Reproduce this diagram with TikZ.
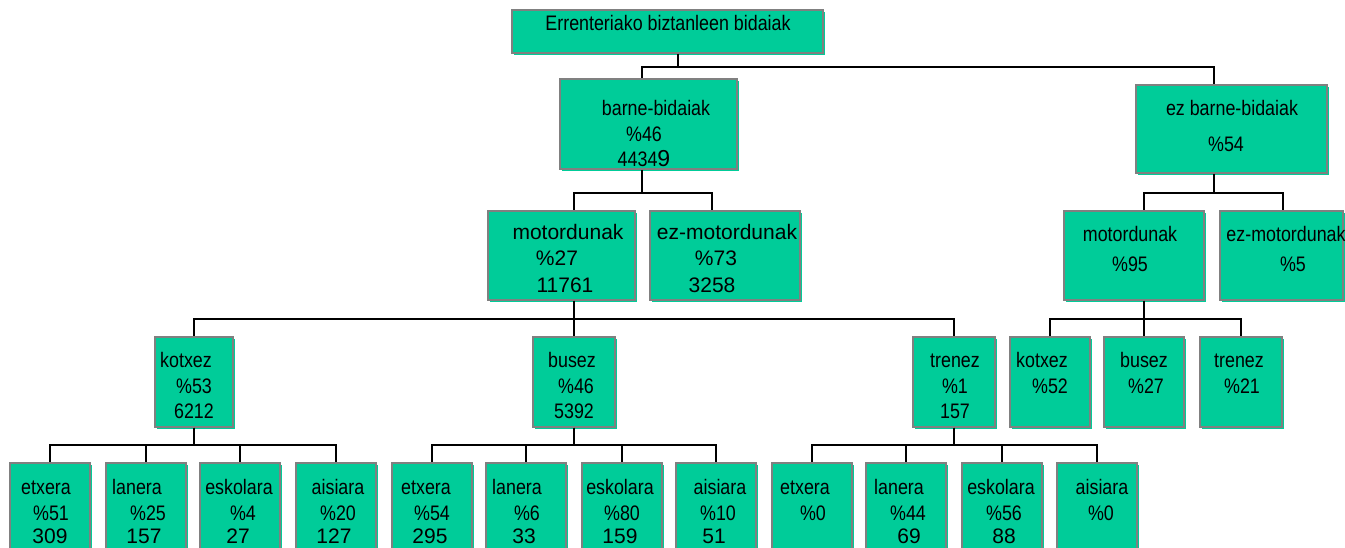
\documentclass[tikz,border=0pt]{standalone}
\usepackage{fontspec}
\setmainfont{Liberation Sans}
\newfontfamily\narrowfont{Liberation Sans}[FakeStretch=0.85]
\newfontfamily\widefont{Liberation Sans}
\usetikzlibrary{shadows}
\definecolor{boxgreen}{RGB}{0,204,153}
\definecolor{boxedge}{RGB}{128,128,128}
\tikzset{
  box/.style={draw=boxedge, line width=1.5pt, fill=boxgreen, inner sep=0pt,
    general shadow={fill=boxgreen, shadow xshift=1.5pt, shadow yshift=-1.5pt}},
  conn/.style={draw=black, line width=1.4pt},
  nt/.style={anchor=base, inner sep=0pt, font=\narrowfont\fontsize{15.75}{18}\selectfont},
  wt/.style={anchor=base, inner sep=0pt, font=\widefont\fontsize{15.75}{18}\selectfont},
}
% box: name, left, top, right, bottom (pixel grid, y downwards)
\newcommand\bx[5]{\node[box, minimum width={(#4-#2)*0.75pt}, minimum height={(#5-#3)*0.75pt}] (#1) at ({(#2+#4)/2},{(#3+#5)/2}) {};}
% text line: name, style, x, baseline y, text
\newcommand\tn[5]{\node[#2] (#1) at (#3,#4) {#5};}
\begin{document}
\begin{tikzpicture}[x=0.75pt, y=-0.75pt]
\useasboundingbox (0,0) rectangle (1345,548);

% ---- boxes ----
\bx{root}{512}{10}{823}{53}
\bx{barne}{560}{79}{737}{169}
\bx{ezbarne}{1136}{85}{1327}{173}
\bx{mot1}{488}{211}{635}{300}
\bx{ezmot1}{650}{211}{800}{300}
\bx{mot2}{1064}{211}{1204}{300}
\bx{ezmot2}{1220}{211}{1343}{300}
\bx{kotxez}{155}{337}{233}{427}
\bx{busez}{533}{337}{615}{427}
\bx{trenez}{913}{337}{995}{427}
\bx{kotxezb}{1010}{337}{1090}{427}
\bx{busezb}{1104}{337}{1184}{427}
\bx{trenezb}{1200}{337}{1282}{427}
% destinations, car
\bx{ka}{10}{463}{90}{565}
\bx{kb}{106}{463}{186}{565}
\bx{kc}{200}{463}{280}{565}
\bx{kd}{296}{463}{376}{565}
% destinations, bus
\bx{ba}{392}{463}{472}{565}
\bx{bb}{486}{463}{566}{565}
\bx{bc}{582}{463}{662}{565}
\bx{bd}{676}{463}{756}{565}
% destinations, train
\bx{ta}{772}{463}{852}{565}
\bx{tb}{866}{463}{946}{565}
\bx{tc}{962}{463}{1042}{565}
\bx{td}{1057}{463}{1137}{565}

% ---- connectors ----
\coordinate (s-root) at (678,0);
\coordinate (s-barne) at (642,0);
\coordinate (s-ezbarne) at (1214,0);
\coordinate (s-mot1) at (574,0);
\coordinate (s-ezmot1) at (712,0);
\coordinate (s-mot2) at (1144,0);
\coordinate (s-ezmot2) at (1283,0);
\coordinate (j1) at (0,67);
\coordinate (j2) at (0,193);
\coordinate (j3) at (0,319);
\coordinate (j4) at (0,445);

\draw[conn] (root.south -| s-root) -- (s-root |- j1) -| (barne.north -| s-barne);
\draw[conn] (s-root |- j1) -| (ezbarne.north -| s-ezbarne);

\draw[conn] (barne.south -| s-barne) -- (s-barne |- j2) -| (mot1.north -| s-mot1);
\draw[conn] (s-barne |- j2) -| (ezmot1.north -| s-ezmot1);

\draw[conn] (ezbarne.south -| s-ezbarne) -- (s-ezbarne |- j2) -| (mot2.north -| s-mot2);
\draw[conn] (s-ezbarne |- j2) -| (ezmot2.north -| s-ezmot2);

\foreach \c in {kotxez,busez,trenez}
  \draw[conn] (mot1.south -| s-mot1) -- (s-mot1 |- j3) -| (\c.north);
\foreach \c in {kotxezb,busezb,trenezb}
  \draw[conn] (mot2.south -| s-mot2) -- (s-mot2 |- j3) -| (\c.north);

\foreach \c in {ka,kb,kc,kd}
  \draw[conn] (kotxez.south) -- (kotxez.south |- j4) -| (\c.north);
\foreach \c in {ba,bb,bc,bd}
  \draw[conn] (busez.south) -- (busez.south |- j4) -| (\c.north);
\foreach \c in {ta,tb,tc,td}
  \draw[conn] (trenez.south) -- (trenez.south |- j4) -| (\c.north);

% ---- texts ----
\tn{t-root}{nt}{668}{31}{Errenteriako biztanleen bidaiak}

\tn{t-barne1}{nt}{656}{116}{barne-bidaiak}
\tn{t-barne2}{nt}{644}{142}{\%46}
\tn{t-barne3}{nt}{644}{167}{4434{\widefont\fontsize{17.3}{18}\selectfont 9}}

\tn{t-ezbarne1}{nt}{1232}{116}{ez barne-bidaiak}
\tn{t-ezbarne2}{nt}{1226}{152}{\%54}

\tn{t-mot1a}{wt}{568}{240}{motordunak}
\tn{t-mot1b}{wt}{557}{266}{\%27}
\tn{t-mot1c}{wt}{565}{293}{11761}

\tn{t-ezmot1a}{wt}{727}{240}{ez-motordunak}
\tn{t-ezmot1b}{wt}{716}{266}{\%73}
\tn{t-ezmot1c}{wt}{712}{293}{3258}

\tn{t-mot2a}{nt}{1130}{242}{motordunak}
\tn{t-mot2b}{nt}{1130}{272}{\%95}

\tn{t-ezmot2a}{nt}{1286}{242}{ez-motordunak}
\tn{t-ezmot2b}{nt}{1293}{272}{\%5}

\tn{t-kotxez1}{nt}{186}{368}{kotxez}
\tn{t-kotxez2}{nt}{194}{394}{\%53}
\tn{t-kotxez3}{nt}{194}{419}{6212}

\tn{t-busez1}{nt}{572}{368}{busez}
\tn{t-busez2}{nt}{576}{394}{\%46}
\tn{t-busez3}{nt}{574}{419}{5392}

\tn{t-trenez1}{nt}{955}{368}{trenez}
\tn{t-trenez2}{nt}{955}{394}{\%1}
\tn{t-trenez3}{nt}{955}{419}{157}

\tn{t-kotxezb1}{nt}{1042}{368}{kotxez}
\tn{t-kotxezb2}{nt}{1050}{394}{\%52}
\tn{t-busezb1}{nt}{1144}{368}{busez}
\tn{t-busezb2}{nt}{1146}{394}{\%27}
\tn{t-trenezb1}{nt}{1239}{368}{trenez}
\tn{t-trenezb2}{nt}{1242}{394}{\%21}

% car destinations
\tn{t-ka1}{nt}{46}{494}{etxera}   \tn{t-ka2}{nt}{51}{520}{\%51}  \tn{t-ka3}{wt}{50}{543}{309}
\tn{t-kb1}{nt}{137}{494}{lanera}  \tn{t-kb2}{nt}{148}{520}{\%25} \tn{t-kb3}{wt}{144}{543}{157}
\tn{t-kc1}{nt}{239}{494}{eskolara}\tn{t-kc2}{nt}{243}{520}{\%4}  \tn{t-kc3}{wt}{238}{543}{27}
\tn{t-kd1}{nt}{338}{494}{aisiara} \tn{t-kd2}{nt}{338}{520}{\%20} \tn{t-kd3}{wt}{334}{543}{127}
% bus destinations
\tn{t-ba1}{nt}{426}{494}{etxera}   \tn{t-ba2}{nt}{432}{520}{\%54} \tn{t-ba3}{wt}{430}{543}{295}
\tn{t-bb1}{nt}{517}{494}{lanera}   \tn{t-bb2}{nt}{527}{520}{\%6}  \tn{t-bb3}{wt}{524}{543}{33}
\tn{t-bc1}{nt}{620}{494}{eskolara} \tn{t-bc2}{nt}{622}{520}{\%80} \tn{t-bc3}{wt}{620}{543}{159}
\tn{t-bd1}{nt}{720}{494}{aisiara}  \tn{t-bd2}{nt}{718}{520}{\%10} \tn{t-bd3}{wt}{714}{543}{51}
% train destinations
\tn{t-ta1}{nt}{805}{494}{etxera}   \tn{t-ta2}{nt}{813}{520}{\%0}
\tn{t-tb1}{nt}{899}{494}{lanera}   \tn{t-tb2}{nt}{908}{520}{\%44} \tn{t-tb3}{wt}{909}{543}{69}
\tn{t-tc1}{nt}{1001}{494}{eskolara}\tn{t-tc2}{nt}{1004}{520}{\%56}\tn{t-tc3}{wt}{1004}{543}{88}
\tn{t-td1}{nt}{1102}{494}{aisiara} \tn{t-td2}{nt}{1101}{520}{\%0}
\end{tikzpicture}
\end{document}
